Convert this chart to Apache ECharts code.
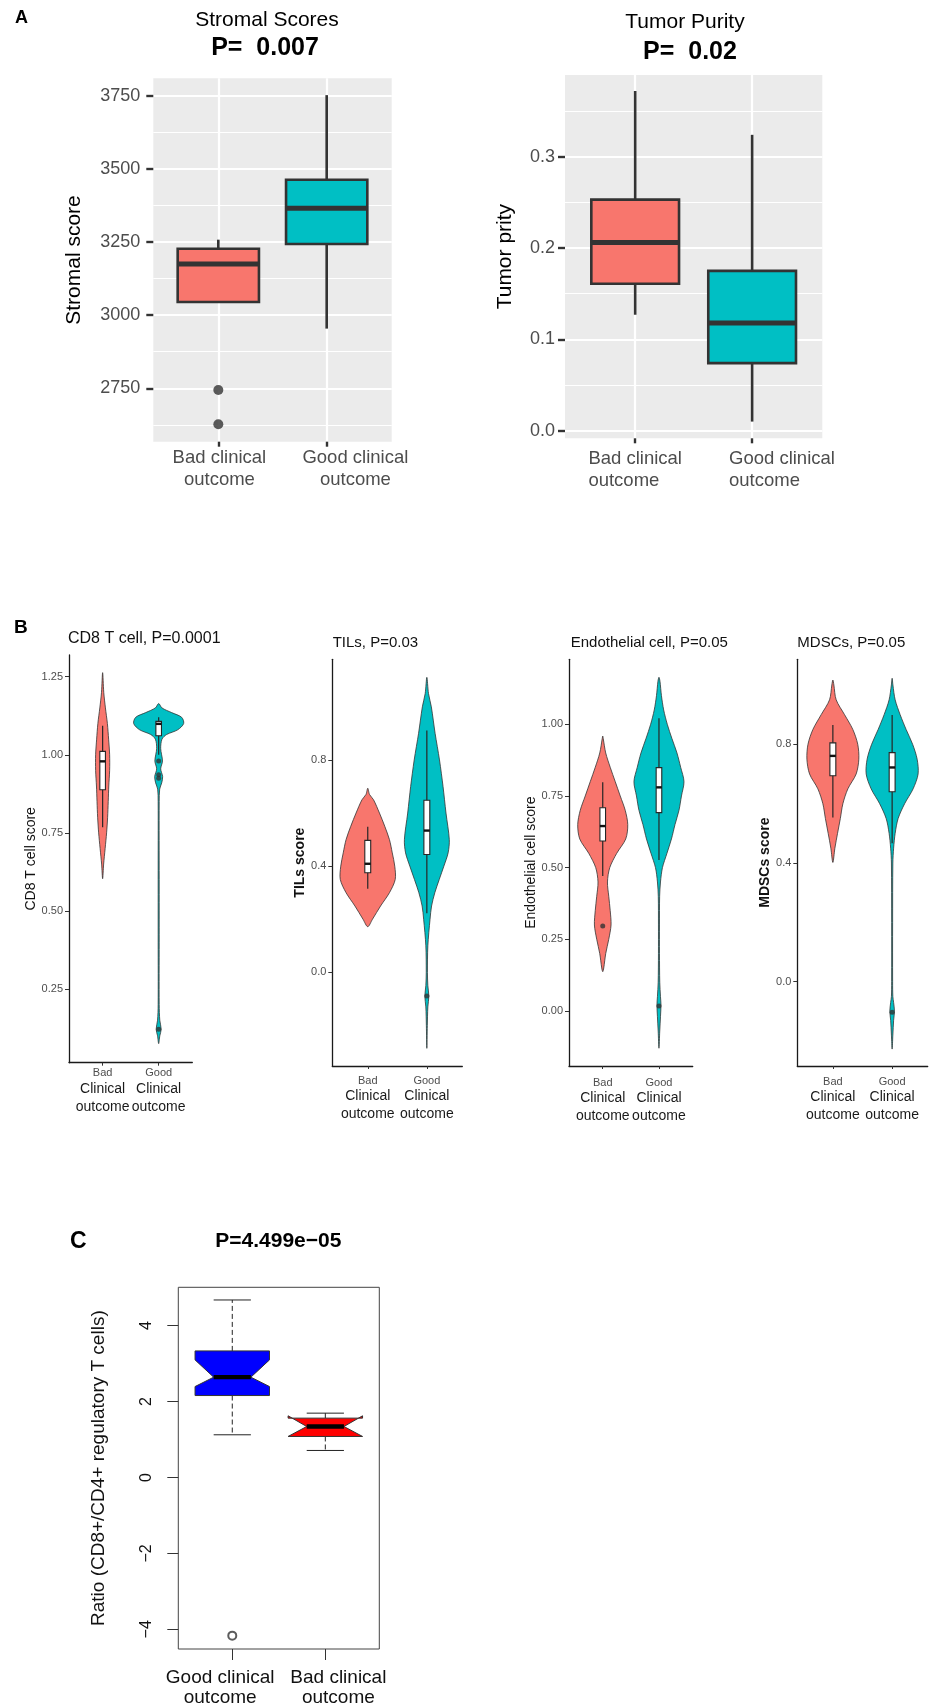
<!DOCTYPE html>
<html>
<head>
<meta charset="utf-8">
<script src="https://cdn.jsdelivr.net/npm/echarts@6/dist/echarts.min.js"></script>
<style>
  html, body { margin: 0; padding: 0; background: #fff; }
  #fig { width: 929px; height: 1706px; }
</style>
</head>
<body>
<div id="fig"></div>
<script>
// ---------------- data ----------------
// Panel A: ESTIMATE scores by clinical outcome (box = [lower whisker, Q1, median, Q3, upper whisker])
const groupsA = ['Bad clinical\noutcome', 'Good clinical\noutcome'];
const stromalBox = [
  [3045, 3045, 3175, 3227, 3258],
  [2954, 3243, 3365, 3463, 3752]
];
const stromalOutliers = [[1, 2744], [1, 2627]];
const stromalTicks = [2750, 3000, 3250, 3500, 3750];
const stromalMinor = [2625, 2875, 3125, 3375, 3625];

const purityBox = [
  [0.127, 0.161, 0.206, 0.253, 0.372],
  [0.010, 0.074, 0.118, 0.175, 0.324]
];
const purityTicks = [0, 0.1, 0.2, 0.3];
const purityMinor = [0.05, 0.15, 0.25, 0.35];

// Panel B: immune/stromal cell scores; violin profiles = [score, half width in group units]
const groupsB = ['Bad\nClinical\noutcome', 'Good\nClinical\noutcome'];

const cd8Violin = [
  [[1.263, 0], [1.2, 0.02], [1.15, 0.05], [1.1, 0.085], [1.05, 0.107], [1.0, 0.125], [0.95, 0.125],
   [0.9, 0.11], [0.85, 0.1], [0.8, 0.089], [0.75, 0.071], [0.7, 0.045], [0.65, 0.018], [0.603, 0]],
  [[1.164, 0], [1.15, 0.059], [1.135, 0.232], [1.12, 0.41], [1.1, 0.446], [1.08, 0.34], [1.065, 0.143],
   [1.05, 0.059], [1.02, 0.036], [0.98, 0.068], [0.955, 0.036], [0.93, 0.071], [0.91, 0.054], [0.89, 0.018],
   [0.85, 0.009], [0.6, 0.009], [0.4, 0.009], [0.2, 0.009], [0.15, 0.02], [0.121, 0.045], [0.1, 0.02], [0.075, 0]]
];
const cd8Box = [[0.768, 0.888, 0.979, 1.011, 1.093], [1.0, 1.061, 1.099, 1.107, 1.12]];
const cd8Outliers = [[2, 0.98], [2, 0.936], [2, 0.925], [2, 0.121]];
const cd8Ticks = [0.25, 0.5, 0.75, 1.0, 1.25];

const tilsViolin = [
  [[0.6935, 0], [0.67, 0.03], [0.65, 0.098], [0.6, 0.198], [0.55, 0.288], [0.5, 0.367], [0.45, 0.415],
   [0.4, 0.457], [0.35, 0.465], [0.3, 0.367], [0.25, 0.217], [0.2, 0.08], [0.172, 0]],
  [[1.111, 0], [1.05, 0.028], [1.0, 0.076], [0.9, 0.14], [0.8, 0.214], [0.7, 0.274], [0.6, 0.324],
   [0.5, 0.38], [0.45, 0.36], [0.4, 0.288], [0.35, 0.21], [0.3, 0.135], [0.25, 0.08], [0.2, 0.054],
   [0.1, 0.017], [0.0, 0.01], [-0.05, 0.017], [-0.09, 0.034], [-0.13, 0.017], [-0.2, 0.008], [-0.286, 0]]
];
const tilsBox = [[0.315, 0.375, 0.409, 0.497, 0.548], [0.223, 0.444, 0.534, 0.648, 0.911]];
const tilsOutliers = [[2, -0.089]];
const tilsTicks = [0.0, 0.4, 0.8];

const endoViolin = [
  [[0.959, 0], [0.95, 0.009], [0.9, 0.053], [0.85, 0.133], [0.8, 0.222], [0.75, 0.311], [0.7, 0.4],
   [0.65, 0.445], [0.6, 0.409], [0.55, 0.249], [0.5, 0.125], [0.45, 0.084], [0.4, 0.107], [0.35, 0.133],
   [0.3, 0.148], [0.25, 0.107], [0.2, 0.053], [0.15, 0.018], [0.137, 0]],
  [[1.164, 0], [1.15, 0.018], [1.1, 0.044], [1.05, 0.084], [1.0, 0.148], [0.95, 0.231], [0.9, 0.32],
   [0.85, 0.386], [0.8, 0.445], [0.75, 0.4], [0.7, 0.356], [0.65, 0.285], [0.6, 0.222], [0.55, 0.142],
   [0.5, 0.062], [0.45, 0.027], [0.4, 0.012], [0.3, 0.009], [0.2, 0.009], [0.1, 0.014], [0.05, 0.027],
   [0.02, 0.036], [-0.02, 0.027], [-0.07, 0.014], [-0.13, 0]]
];
const endoBox = [[0.471, 0.593, 0.645, 0.709, 0.798], [0.527, 0.692, 0.78, 0.849, 1.021]];
const endoOutliers = [[1, 0.296], [2, 0.017]];
const endoTicks = [0.0, 0.25, 0.5, 0.75, 1.0];

const mdscViolin = [
  [[1.0167, 0], [1.0, 0.017], [0.95, 0.056], [0.9, 0.197], [0.85, 0.337], [0.8, 0.42], [0.75, 0.438],
   [0.7, 0.393], [0.65, 0.253], [0.6, 0.169], [0.55, 0.126], [0.5, 0.079], [0.45, 0.034], [0.402, 0]],
  [[1.0225, 0], [1.0, 0.013], [0.95, 0.051], [0.9, 0.135], [0.85, 0.236], [0.8, 0.346], [0.75, 0.422],
   [0.7, 0.438], [0.65, 0.354], [0.6, 0.211], [0.55, 0.101], [0.5, 0.051], [0.45, 0.025], [0.4, 0.012],
   [0.2, 0.008], [0.0, 0.008], [-0.05, 0.012], [-0.07, 0.025], [-0.1, 0.039], [-0.13, 0.025],
   [-0.18, 0.012], [-0.227, 0]]
];
const mdscBox = [[0.553, 0.694, 0.761, 0.805, 0.865], [0.467, 0.640, 0.722, 0.772, 0.899]];
const mdscOutliers = [[2, -0.103]];
const mdscTicks = [0.0, 0.4, 0.8];

// Panel C: CD8+/Treg ratio, notched boxes = [lower whisker, Q1, median, Q3, upper whisker, notch low, notch high]
const groupsC = ['Good clinical\noutcome', 'Bad clinical\noutcome'];
const ratioBox = [
  [1.124, 2.158, 2.642, 3.334, 4.676, 2.395, 3.097],
  [0.711, 1.080, 1.342, 1.563, 1.694, 1.080, 1.624]
];
const ratioOutliers = [[1, -4.168]];
const ratioTicks = [-4, -2, 0, 2, 4];

// ---------------- layout & style ----------------
const FONT = '"Liberation Sans", Arial, Helvetica, sans-serif';
const RED = '#F8766D', TEAL = '#00BFC4';

const grid = [], xAxis = [], yAxis = [], series = [];
function addGrid(rect, extra) {
  grid.push(Object.assign({ outerBoundsMode: 'none', containLabel: false, show: false }, rect, extra || {}));
  return grid.length - 1;
}
function push(list, item) { list.push(item); return list.length - 1; }

// rich label text for a group name, one style key per line
function richLines(name, keys) {
  return name.split('\n').map((s, k) => '{' + keys[Math.min(k, keys.length - 1)] + '|' + s + '}').join('\n');
}
const keepAll = { showMinLabel: true, showMaxLabel: true, hideOverlap: false };

// ---------- ggplot-style boxplot panel ----------
function ggPanel(rect, o) {
  const g = addGrid(rect, { show: true, backgroundColor: '#EBEBEB', borderWidth: 0 });
  const xi = push(xAxis, {
    type: 'value', gridIndex: g, min: 0.4, max: 2.6,
    axisLine: { show: false, onZero: false },
    axisTick: { show: true, customValues: [1, 2], length: 5, lineStyle: { color: '#333', width: 2.4 } },
    axisLabel: Object.assign({
      customValues: o.labelAt, margin: o.xMargin,
      formatter: v => richLines(groupsA[Math.round(v) - 1], ['a']),
      rich: o.xRich
    }, keepAll),
    splitLine: { show: true, lineStyle: { color: '#fff', width: 2.2 } }
  });
  const yi = push(yAxis, {
    type: 'value', gridIndex: g, min: o.min, max: o.max, position: 'left',
    axisLine: { show: false, onZero: false },
    axisTick: { show: true, customValues: o.ticks, length: 7, lineStyle: { color: '#333', width: 2.4 } },
    axisLabel: Object.assign({ customValues: o.ticks, margin: o.yMargin, fontSize: 18, color: '#4d4d4d', formatter: o.yFmt }, keepAll),
    splitLine: { show: true, lineStyle: { color: '#fff', width: 2.2 } },
    name: o.name, nameLocation: 'middle', nameGap: o.nameGap, nameMoveOverlap: false,
    nameTextStyle: { fontSize: 21, color: '#000' }
  });
  push(yAxis, {
    type: 'value', gridIndex: g, min: o.min, max: o.max, position: 'left',
    axisLine: { show: false, onZero: false },
    axisTick: { show: false, customValues: o.minor },
    axisLabel: { show: false },
    splitLine: { show: true, lineStyle: { color: '#fff', width: 1.1 } }
  });
  series.push({
    type: 'custom', xAxisIndex: xi, yAxisIndex: yi, z: 5,
    data: o.box.map((b, i) => [i + 1].concat(b)),
    encode: { x: 0, y: [1, 2, 3, 4, 5] },
    renderItem(params, api) {
      const x = api.value(0);
      const pt = k => api.coord([x, api.value(k)]);
      const lo = pt(1), q1 = pt(2), md = pt(3), q3 = pt(4), hi = pt(5);
      const hw = api.size([0.75, 0])[0] / 2;
      const s = { stroke: '#333333', lineWidth: 2.6 };
      return { type: 'group', children: [
        { type: 'line', shape: { x1: lo[0], y1: lo[1], x2: q1[0], y2: q1[1] }, style: s },
        { type: 'line', shape: { x1: q3[0], y1: q3[1], x2: hi[0], y2: hi[1] }, style: s },
        { type: 'rect', shape: { x: q3[0] - hw, y: q3[1], width: 2 * hw, height: q1[1] - q3[1] },
          style: { fill: [RED, TEAL][params.dataIndex], stroke: '#333333', lineWidth: 2.6 } },
        { type: 'line', shape: { x1: md[0] - hw, y1: md[1], x2: md[0] + hw, y2: md[1] },
          style: { stroke: '#333333', lineWidth: 5 } }
      ] };
    }
  });
  if (o.outliers) {
    series.push({ type: 'scatter', xAxisIndex: xi, yAxisIndex: yi, z: 6, data: o.outliers,
      symbol: 'circle', symbolSize: 10, itemStyle: { color: '#333333' }, silent: true });
  }
}

ggPanel({ left: 153.3, top: 78.3, width: 238.4, height: 363.4 }, {
  box: stromalBox, outliers: stromalOutliers, min: 2567.5, max: 3809.5,
  ticks: stromalTicks, minor: stromalMinor, yFmt: v => String(v), yMargin: 13,
  name: 'Stromal score', nameGap: 69,
  labelAt: [1.01, 2.265], xMargin: 5,
  xRich: { a: { fontSize: 18.5, lineHeight: 22, color: '#4d4d4d', fontFamily: FONT } }
});
ggPanel({ left: 565, top: 75, width: 257.3, height: 363.3 }, {
  box: purityBox, min: -0.0083, max: 0.3895,
  ticks: purityTicks, minor: purityMinor, yFmt: v => v.toFixed(1), yMargin: 10,
  name: 'Tumor prity', nameGap: 49,
  labelAt: [1.0, 2.255], xMargin: 10,
  xRich: { a: { fontSize: 18.5, lineHeight: 22, color: '#4d4d4d', fontFamily: FONT, align: 'left' } }
});

// ---------- violin panel ----------
function violinPanel(rect, o) {
  const g = addGrid(rect);
  const xi = push(xAxis, {
    type: 'value', gridIndex: g, min: 0.4, max: 2.6,
    axisLine: { show: true, onZero: false, lineStyle: { color: '#1a1a1a', width: 1.3 } },
    axisTick: { show: true, customValues: [1, 2], length: 3, lineStyle: { color: '#333', width: 1 } },
    axisLabel: Object.assign({
      customValues: [1, 2], margin: o.xMargin,
      formatter: v => richLines(groupsB[Math.round(v) - 1], ['s', 'm']),
      rich: {
        s: { fontSize: 11, lineHeight: 13, color: '#4d4d4d', fontFamily: FONT },
        m: { fontSize: 14, lineHeight: 18, color: '#1a1a1a', fontFamily: FONT }
      }
    }, keepAll),
    splitLine: { show: false }
  });
  const yi = push(yAxis, {
    type: 'value', gridIndex: g, min: o.min, max: o.max, position: 'left',
    axisLine: { show: true, onZero: false, lineStyle: { color: '#1a1a1a', width: 1.3 } },
    axisTick: { show: true, customValues: o.ticks, length: 4, lineStyle: { color: '#333', width: 1 } },
    axisLabel: Object.assign({ customValues: o.ticks, margin: 6, fontSize: 11, color: '#4d4d4d', formatter: o.yFmt }, keepAll),
    splitLine: { show: false },
    name: o.name, nameLocation: 'middle', nameGap: o.nameGap, nameMoveOverlap: false,
    nameTextStyle: { fontSize: 14, color: '#111', fontWeight: o.nameBold ? 'bold' : 'normal' }
  });
  series.push({
    type: 'custom', xAxisIndex: xi, yAxisIndex: yi, z: 3,
    data: o.violin.map((p, i) => [i + 1, p[0][0], p[p.length - 1][0]]),
    encode: { x: 0, y: [1, 2] },
    renderItem(params, api) {
      const x = api.value(0);
      const prof = o.violin[params.dataIndex];
      const right = prof.map(d => api.coord([x + d[1], d[0]]));
      const left = prof.slice(1, -1).reverse().map(d => api.coord([x - d[1], d[0]]));
      return { type: 'polygon', shape: { points: right.concat(left), smooth: 0.3 },
        style: { fill: [RED, TEAL][params.dataIndex], stroke: '#333333', lineWidth: 0.8 } };
    }
  });
  series.push({
    type: 'custom', xAxisIndex: xi, yAxisIndex: yi, z: 4,
    data: o.box.map((b, i) => [i + 1].concat(b)),
    encode: { x: 0, y: [1, 2, 3, 4, 5] },
    renderItem(params, api) {
      const x = api.value(0);
      const pt = k => api.coord([x, api.value(k)]);
      const lo = pt(1), q1 = pt(2), md = pt(3), q3 = pt(4), hi = pt(5);
      const hw = api.size([0.1, 0])[0] / 2;
      return { type: 'group', children: [
        { type: 'line', shape: { x1: lo[0], y1: lo[1], x2: hi[0], y2: hi[1] }, style: { stroke: '#262626', lineWidth: 1.2 } },
        { type: 'rect', shape: { x: q3[0] - hw, y: q3[1], width: 2 * hw, height: q1[1] - q3[1] },
          style: { fill: '#fff', stroke: '#262626', lineWidth: 1.1 } },
        { type: 'line', shape: { x1: md[0] - hw, y1: md[1], x2: md[0] + hw, y2: md[1] }, style: { stroke: '#111', lineWidth: 2.4 } }
      ] };
    }
  });
  series.push({ type: 'scatter', xAxisIndex: xi, yAxisIndex: yi, z: 5, data: o.outliers,
    symbol: 'circle', symbolSize: 5, itemStyle: { color: '#333333' }, silent: true });
}

violinPanel({ left: 69, top: 655, width: 123.3, height: 407.7 }, {
  violin: cd8Violin, box: cd8Box, outliers: cd8Outliers, min: 0.014, max: 1.3195,
  ticks: cd8Ticks, yFmt: v => v.toFixed(2), xMargin: 4,
  name: 'CD8 T cell score', nameGap: 31
});
violinPanel({ left: 332.3, top: 659.3, width: 130, height: 406.7 }, {
  violin: tilsViolin, box: tilsBox, outliers: tilsOutliers, min: -0.3526, max: 1.179,
  ticks: tilsTicks, yFmt: v => v.toFixed(1), xMargin: 8.5,
  name: 'TILs score', nameGap: 25, nameBold: true
});
violinPanel({ left: 569, top: 659.3, width: 123.7, height: 406.7 }, {
  violin: endoViolin, box: endoBox, outliers: endoOutliers, min: -0.192, max: 1.2267,
  ticks: endoTicks, yFmt: v => v.toFixed(2), xMargin: 10.5,
  name: 'Endothelial cell score', nameGap: 31
});
violinPanel({ left: 797.3, top: 659.3, width: 130.4, height: 406.7 }, {
  violin: mdscViolin, box: mdscBox, outliers: mdscOutliers, min: -0.284, max: 1.0865,
  ticks: mdscTicks, yFmt: v => v.toFixed(1), xMargin: 9,
  name: 'MDSCs score', nameGap: 25, nameBold: true
});

// ---------- base-R style notched boxplot ----------
(function () {
  const g = addGrid({ left: 178.3, top: 1287.3, width: 201, height: 361.7 },
    { show: true, borderColor: '#444', borderWidth: 1, backgroundColor: 'transparent' });
  const xi = push(xAxis, {
    type: 'value', gridIndex: g, min: 0.42, max: 2.58,
    axisLine: { show: false, onZero: false },
    axisTick: { show: true, customValues: [1, 2], length: 11, lineStyle: { color: '#333', width: 1 } },
    axisLabel: Object.assign({
      customValues: [0.87, 2.14], margin: 19,
      formatter: v => richLines(groupsC[Math.round(v) - 1], ['g']),
      rich: { g: { fontSize: 19, lineHeight: 20, color: '#111', fontFamily: FONT } }
    }, keepAll),
    splitLine: { show: false }
  });
  const yi = push(yAxis, {
    type: 'value', gridIndex: g, min: -4.52, max: 5.01, position: 'left',
    axisLine: { show: false, onZero: false },
    axisTick: { show: true, customValues: ratioTicks, length: 11, lineStyle: { color: '#333', width: 1 } },
    axisLabel: Object.assign({ customValues: ratioTicks, margin: 24, rotate: 90, fontSize: 16, color: '#111',
      formatter: v => (v < 0 ? '\u2212' + Math.abs(v) : String(v)) }, keepAll),
    splitLine: { show: false },
    name: 'Ratio (CD8+/CD4+ regulatory T cells)', nameLocation: 'middle', nameGap: 70, nameMoveOverlap: false,
    nameTextStyle: { fontSize: 19, color: '#111' }
  });
  series.push({
    type: 'custom', xAxisIndex: xi, yAxisIndex: yi, z: 4,
    data: ratioBox.map((b, i) => [i + 1].concat(b)),
    encode: { x: 0, y: [1, 2, 3, 4, 5] },
    renderItem(params, api) {
      const x = api.value(0);
      const v = k => api.value(k);
      const hw = api.size([0.8, 0])[0] / 2, nw = hw / 2, sw = hw / 2;
      const P = (dx, val) => { const p = api.coord([x, val]); return [p[0] + dx, p[1]]; };
      const lw = v(1), q1 = v(2), md = v(3), q3 = v(4), uw = v(5), nlo = v(6), nhi = v(7);
      const dash = { stroke: '#222', lineWidth: 1, lineDash: [5, 3] };
      const solid = { stroke: '#222', lineWidth: 1 };
      const seg = (a, b, st) => ({ type: 'line', shape: { x1: a[0], y1: a[1], x2: b[0], y2: b[1] }, style: st });
      return { type: 'group', children: [
        seg(P(0, q3), P(0, uw), dash),
        seg(P(0, q1), P(0, lw), dash),
        seg(P(-sw, uw), P(sw, uw), solid),
        seg(P(-sw, lw), P(sw, lw), solid),
        { type: 'polygon', shape: { points: [
            P(-hw, q1), P(-hw, nlo), P(-nw, md), P(-hw, nhi), P(-hw, q3),
            P(hw, q3), P(hw, nhi), P(nw, md), P(hw, nlo), P(hw, q1)] },
          style: { fill: ['#0000FF', '#FF0000'][params.dataIndex], stroke: '#333', lineWidth: 1 } },
        seg(P(-nw, md), P(nw, md), { stroke: '#000', lineWidth: 4.3 })
      ] };
    }
  });
  series.push({ type: 'scatter', xAxisIndex: xi, yAxisIndex: yi, z: 5, data: ratioOutliers,
    symbol: 'emptyCircle', symbolSize: 8, itemStyle: { color: '#333', borderColor: '#333', borderWidth: 1 }, silent: true });
})();

// ---------- titles and panel letters ----------
function txt(text, x, y, size, opt) {
  opt = opt || {};
  return { type: 'text', x: x, y: y, silent: true, z: 10,
    style: { text: text, fontSize: size, fontFamily: FONT, fontWeight: opt.bold ? 'bold' : 'normal',
      fill: opt.color || '#000', align: opt.align || 'center', verticalAlign: 'middle' } };
}
const graphic = [
  txt('A', 15, 18, 18, { bold: true, align: 'left' }),
  txt('Stromal Scores', 267, 20, 21),
  txt('P=  0.007', 265, 48, 25, { bold: true }),
  txt('Tumor Purity', 685, 22, 21),
  txt('P=  0.02', 690, 52, 25, { bold: true }),
  txt('B', 14, 628, 19, { bold: true, align: 'left' }),
  txt('CD8 T cell, P=0.0001', 68, 638.5, 16, { align: 'left', color: '#111' }),
  txt('TILs, P=0.03', 332.7, 643.3, 15, { align: 'left', color: '#111' }),
  txt('Endothelial cell, P=0.05', 570.7, 643.3, 15, { align: 'left', color: '#111' }),
  txt('MDSCs, P=0.05', 797.3, 643.3, 15, { align: 'left', color: '#111' }),
  txt('C', 78.3, 1241.7, 23, { bold: true }),
  txt('P=4.499e\u221205', 278.3, 1241.7, 21, { bold: true })
];

const chart = echarts.init(document.getElementById('fig'), null, { renderer: 'canvas', width: 929, height: 1706 });
chart.setOption({
  animation: false,
  backgroundColor: '#ffffff',
  textStyle: { fontFamily: FONT },
  grid: grid, xAxis: xAxis, yAxis: yAxis, series: series, graphic: graphic
});
</script>
</body>
</html>
